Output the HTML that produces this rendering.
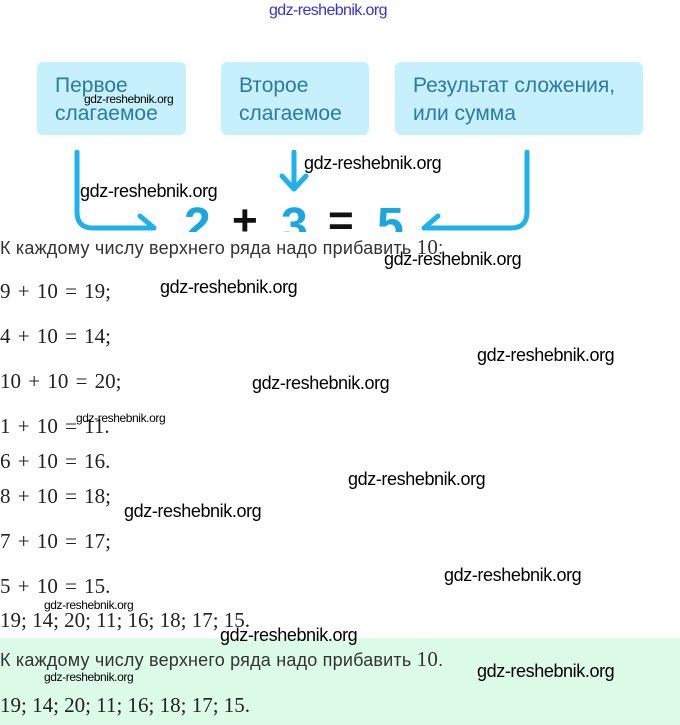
<!DOCTYPE html>
<html><head><meta charset="utf-8"><style>
body{margin:0;width:680px;height:725px;position:relative;background:#fff;overflow:hidden;font-family:"Liberation Sans","DejaVu Sans",sans-serif}
.a{position:absolute;white-space:nowrap}
.box{position:absolute;background:#c6f0fb;border-radius:6px;color:#2a7aa8;font-size:21px;line-height:28px;padding:10px 0 0 18px;box-sizing:border-box}
.m{position:absolute;font-family:"Liberation Serif","DejaVu Serif",serif;font-size:21px;color:#222;white-space:nowrap;word-spacing:2px}
.w{position:absolute;font-size:18px;color:#000;white-space:nowrap;letter-spacing:-0.4px;z-index:2}
.ws{position:absolute;font-size:12px;color:#000;white-space:nowrap;letter-spacing:-0.4px;z-index:2}
.t{position:absolute;font-size:18px;color:#333;white-space:nowrap;letter-spacing:0.2px}
</style></head><body>
<div class="a" style="left:269px;top:2px;font-size:16px;color:#3333dd;letter-spacing:-0.6px">gdz-reshebnik.org</div>
<div class="box" style="left:37px;top:62px;width:149px;height:73px">Первое<br>слагаемое</div>
<div class="box" style="left:221px;top:62px;width:148px;height:73px">Второе<br>слагаемое</div>
<div class="box" style="left:395px;top:62px;width:248px;height:73px">Результат сложения,<br>или сумма</div>
<div style="position:absolute;left:0;top:150px;width:680px;height:82px;overflow:hidden">
<svg width="680" height="82" style="position:absolute;left:0;top:0" fill="none" stroke="#1fb1ea" stroke-width="5" stroke-linecap="round" stroke-linejoin="round">
<path d="M77 2 V62 Q77 78 93 78 H152"/><path d="M140 66 L154 78"/>
<path d="M294 2 V38"/><path d="M282 26 L294 39 L306 26"/>
<path d="M527 2 V62 Q527 78 511 78 H426"/><path d="M438 66 L424 78"/>
</svg>
<div class="a" style="left:184px;top:48px;font-size:48px;font-weight:bold;color:#1aa6e0">2</div>
<div class="a" style="left:232px;top:46px;font-size:44px;font-weight:bold;color:#111">+</div>
<div class="a" style="left:281px;top:48px;font-size:48px;font-weight:bold;color:#1aa6e0">3</div>
<div class="a" style="left:328px;top:46px;font-size:44px;font-weight:bold;color:#111">=</div>
<div class="a" style="left:377px;top:48px;font-size:48px;font-weight:bold;color:#1aa6e0">5</div>
</div>
<div class="ws" style="left:84px;top:92px">gdz-reshebnik.org</div>
<div class="w" style="left:304px;top:153px">gdz-reshebnik.org</div>
<div class="w" style="left:80px;top:181px">gdz-reshebnik.org</div>
<div class="t" style="left:0;top:235px">К каждому числу верхнего ряда надо прибавить <span style="font-family:'Liberation Serif',serif;font-size:21px">10</span>:</div>
<div class="w" style="left:384px;top:249px">gdz-reshebnik.org</div>
<div class="m" style="left:0;top:279px">9 + 10 = 19;</div>
<div class="w" style="left:160px;top:277px">gdz-reshebnik.org</div>
<div class="m" style="left:0;top:324px">4 + 10 = 14;</div>
<div class="w" style="left:477px;top:345px">gdz-reshebnik.org</div>
<div class="m" style="left:0;top:369px">10 + 10 = 20;</div>
<div class="w" style="left:252px;top:373px">gdz-reshebnik.org</div>
<div class="m" style="left:0;top:414px">1 + 10 = 11.</div>
<div class="ws" style="left:76px;top:411px">gdz-reshebnik.org</div>
<div class="m" style="left:0;top:449px">6 + 10 = 16.</div>
<div class="w" style="left:348px;top:469px">gdz-reshebnik.org</div>
<div class="m" style="left:0;top:484px">8 + 10 = 18;</div>
<div class="w" style="left:124px;top:501px">gdz-reshebnik.org</div>
<div class="m" style="left:0;top:529px">7 + 10 = 17;</div>
<div class="m" style="left:0;top:574px">5 + 10 = 15.</div>
<div class="w" style="left:444px;top:565px">gdz-reshebnik.org</div>
<div class="ws" style="left:44px;top:598px">gdz-reshebnik.org</div>
<div class="m" style="left:0;top:608px;word-spacing:0">19; 14; 20; 11; 16; 18; 17; 15.</div>
<div style="position:absolute;left:0;top:638px;width:680px;height:87px;background:#dcfbe9"></div>
<div class="w" style="left:220px;top:625px">gdz-reshebnik.org</div>
<div class="t" style="left:0;top:647px">К каждому числу верхнего ряда надо прибавить <span style="font-family:'Liberation Serif',serif;font-size:21px">10</span>.</div>
<div class="w" style="left:477px;top:661px">gdz-reshebnik.org</div>
<div class="ws" style="left:44px;top:670px">gdz-reshebnik.org</div>
<div class="m" style="left:0;top:693px;word-spacing:0">19; 14; 20; 11; 16; 18; 17; 15.</div>
</body></html>
